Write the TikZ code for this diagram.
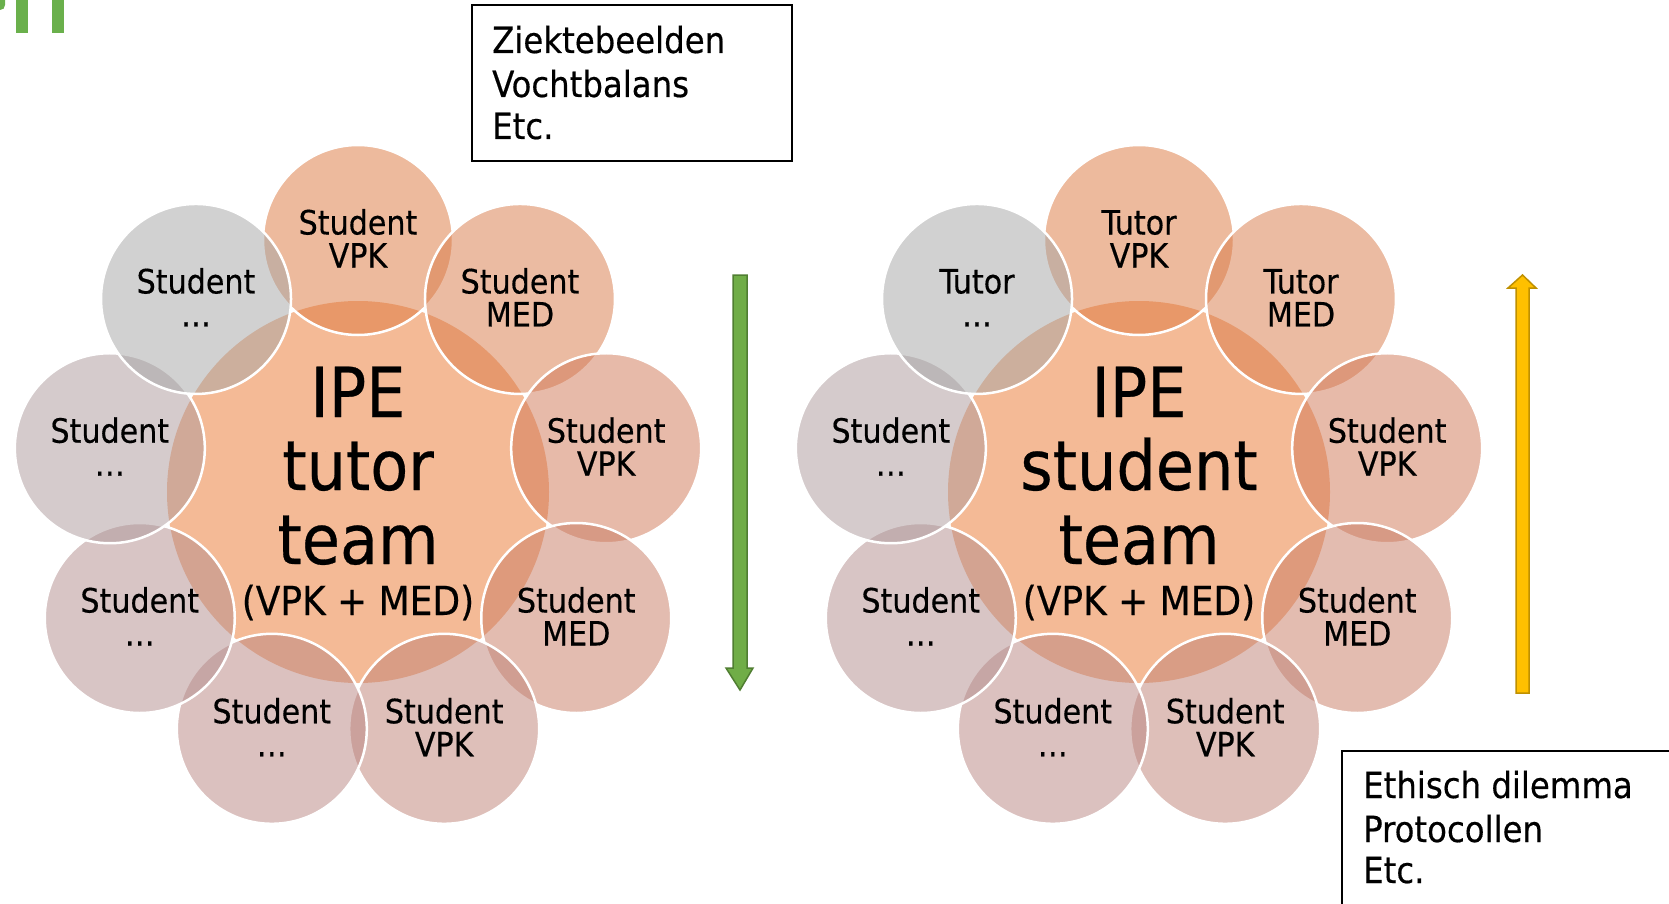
\documentclass[tikz,border=0pt]{standalone}
\usepackage{fontspec}
\setmainfont{DejaVu Sans Condensed}[FakeBold=0.4]
\usetikzlibrary{calc}
\definecolor{hubc}{RGB}{244,186,150}
\definecolor{c0}{RGB}{221,119,61}
\definecolor{c1}{RGB}{217,121,71}
\definecolor{c2}{RGB}{209,119,85}
\definecolor{c3}{RGB}{201,123,99}
\definecolor{c4}{RGB}{191,129,117}
\definecolor{c5}{RGB}{185,133,129}
\definecolor{c6}{RGB}{179,141,141}
\definecolor{c7}{RGB}{173,153,155}
\definecolor{c8}{RGB}{165,165,165}
\definecolor{logogreen}{RGB}{106,176,76}
\definecolor{greenfill}{RGB}{112,173,71}
\definecolor{greenline}{RGB}{80,126,50}
\definecolor{orangefill}{RGB}{255,192,0}
\definecolor{orangeline}{RGB}{191,144,0}
\tikzset{
  ring/.style={circle, minimum size=190pt, inner sep=0pt, draw=white, line width=2.5pt, fill opacity=0.5},
  hub/.style={circle, minimum size=382pt, inner sep=0pt, fill=hubc},
  lbl/.style={font=\fontsize{33.5}{33}\selectfont, inner sep=0pt, anchor=base},
  big/.style={font=\fontsize{69}{73}\selectfont, inner sep=0pt, anchor=base},
  mid/.style={font=\fontsize{40}{44}\selectfont, inner sep=0pt, anchor=base},
  boxtxt/.style={font=\fontsize{36}{43}\selectfont, inner sep=0pt, anchor=base west},
  frame/.style={draw=black, line width=2pt},
  greenarrow/.style={fill=greenfill, draw=greenline, line width=1.5pt},
  orangearrow/.style={fill=orangefill, draw=orangeline, line width=1.5pt},
}
\begin{document}
\begin{tikzpicture}[x=1pt,y=1pt]
\useasboundingbox (0,-904) rectangle (1669,0);
\clip (0,-904) rectangle (1669,0);
\fill[white] (0,-904) rectangle (1669,0);

% logo fragment
\fill[logogreen] (16,0) rectangle (28,-33);
\fill[logogreen] (52,0) rectangle (64,-33);
\fill[logogreen] (0,0) -- (5,0) -- (5,-5) .. controls (5,-8) and (3,-10) .. (0,-10) -- cycle;

% left flower
\node[hub] (Lhub) at (358,-492) {};
\foreach \i/\c in {0/c0, 1/c1, 2/c2, 3/c3, 4/c4, 5/c5, 6/c6, 7/c7, 8/c8}{
  \node[ring, fill=\c] (L\i) at ($(Lhub)+(90-40*\i:252)$) {};
}
\foreach \i/\ta/\tb in {0/Student/VPK, 1/Student/MED, 2/Student/VPK, 3/Student/MED, 4/Student/VPK, 5/Student/…, 6/Student/…, 7/Student/…, 8/Student/…}{
  \node[lbl] (L\i-a) at ($(L\i)+(0,5.5)$) {\ta};
  \node[lbl] (L\i-b) at ($(L\i)+(0,-27.5)$) {\tb};
}
\node[big] (Lt1) at ($(Lhub)+(0,75)$) {IPE};
\node[big] (Lt2) at ($(Lhub)+(0,2)$) {tutor};
\node[big] (Lt3) at ($(Lhub)+(0,-72)$) {team};
\node[mid] (Lt4) at ($(Lhub)+(0,-123)$) {(VPK + MED)};

% right flower
\node[hub] (Rhub) at (1139,-492) {};
\foreach \i/\c in {0/c0, 1/c1, 2/c2, 3/c3, 4/c4, 5/c5, 6/c6, 7/c7, 8/c8}{
  \node[ring, fill=\c] (R\i) at ($(Rhub)+(90-40*\i:252)$) {};
}
\foreach \i/\ta/\tb in {0/Tutor/VPK, 1/Tutor/MED, 2/Student/VPK, 3/Student/MED, 4/Student/VPK, 5/Student/…, 6/Student/…, 7/Student/…, 8/Tutor/…}{
  \node[lbl] (R\i-a) at ($(R\i)+(0,5.5)$) {\ta};
  \node[lbl] (R\i-b) at ($(R\i)+(0,-27.5)$) {\tb};
}
\node[big] (Rt1) at ($(Rhub)+(0,75)$) {IPE};
\node[big] (Rt2) at ($(Rhub)+(0,2)$) {student};
\node[big] (Rt3) at ($(Rhub)+(0,-72)$) {team};
\node[mid] (Rt4) at ($(Rhub)+(0,-123)$) {(VPK + MED)};

% arrows
\path[greenarrow] (733,-275) -- (747,-275) -- (747,-668) -- (753,-668) -- (740,-690) -- (726,-668) -- (733,-668) -- cycle;
\path[orangearrow] (1516,-693) -- (1516,-288) -- (1508,-288) -- (1522.5,-275) -- (1536,-288) -- (1529,-288) -- (1529,-693) -- cycle;

% boxes
\draw[frame] (471.5,-5) rectangle (792,-161);
\node[boxtxt] (B1a) at (492,-53) {Ziektebeelden};
\node[boxtxt] (B1b) at (492,-97) {Vochtbalans};
\node[boxtxt] (B1c) at (492,-139) {Etc.};

\draw[frame] (1342,-751) rectangle (1720,-960);
\node[boxtxt] (B2a) at (1363,-798) {Ethisch dilemma};
\node[boxtxt] (B2b) at (1363,-842) {Protocollen};
\node[boxtxt] (B2c) at (1363,-883) {Etc.};
\end{tikzpicture}
\end{document}
